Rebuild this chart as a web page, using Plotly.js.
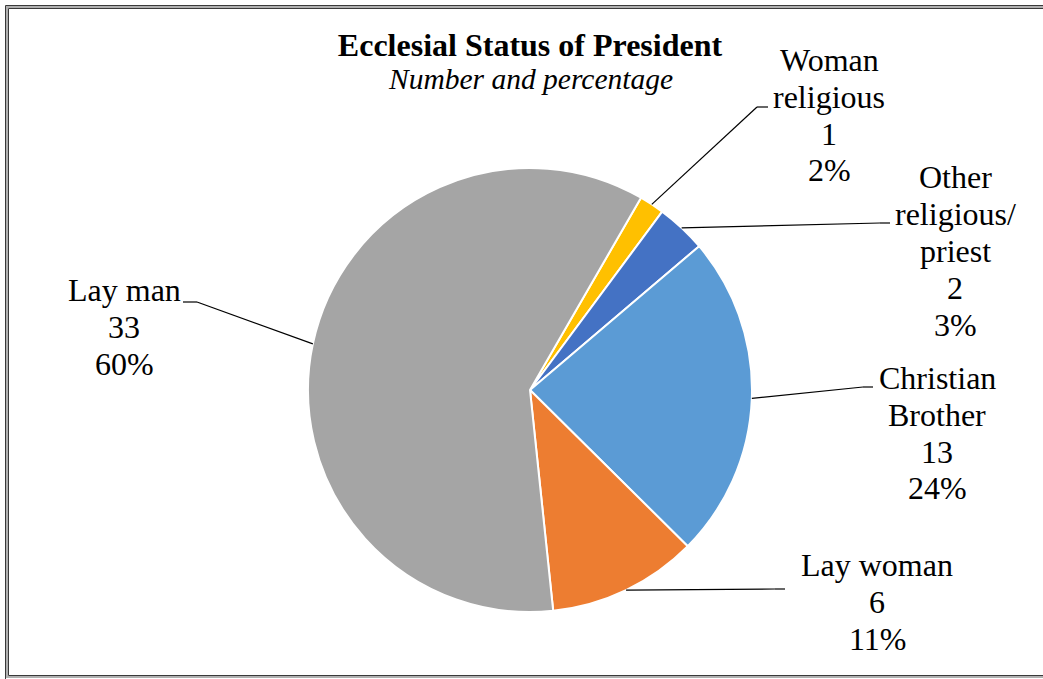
<!DOCTYPE html>
<html>
<head>
<meta charset="utf-8">
<script src="https://cdn.plot.ly/plotly-3.0.1.min.js"></script>
<style>html,body{margin:0;padding:0;background:#fff;}#chart{width:1043px;height:679px;}</style>
</head>
<body>
<div id="chart"></div>
<script>
// ---- Data ----
const categories = ['Woman religious', 'Other religious/priest', 'Christian Brother', 'Lay woman', 'Lay man'];
const counts = [1, 2, 13, 6, 33];
const percentLabels = ['2%', '3%', '24%', '11%', '60%'];
const labelNameLines = [['Woman', 'religious'], ['Other', 'religious/', 'priest'], ['Christian', 'Brother'], ['Lay woman'], ['Lay man']];
const sliceColors = ['#FFC000', '#4472C4', '#5B9BD5', '#ED7D31', '#A5A5A5'];

// ---- Layout geometry (pixels) ----
const W = 1043, H = 679;
const CX = 530, CY = 390, R = 222;
const ROTATION = 30;
const FONT = 'Liberation Serif, Times New Roman, serif';
const LABEL_SIZE = 32, LINE_STEP = 36.8;
const labelPos = [[829, 60], [955, 177.5], [937, 378], [877, 565], [124, 290]];
const elbowPos = [[757, 107], [880, 223], [863, 387], [775, 589], [197, 302]];
const endPos = [[768, 107], [890, 223], [873, 387], [785, 589], [183, 302]];

const px = x => x / W;
const py = y => 1 - y / H;

const total = counts.reduce((a, b) => a + b, 0);
const annotations = [];
const shapes = [];

let cum = 0;
counts.forEach((v, i) => {
  const mid = (ROTATION + 360 * (cum + v / 2) / total) * Math.PI / 180;
  cum += v;
  const ex = CX + R * Math.sin(mid), ey = CY - R * Math.cos(mid);
  shapes.push({type: 'line', xref: 'paper', yref: 'paper', x0: px(ex), y0: py(ey), x1: px(elbowPos[i][0]), y1: py(elbowPos[i][1]), line: {color: '#000', width: 1.2}});
  shapes.push({type: 'line', xref: 'paper', yref: 'paper', x0: px(elbowPos[i][0]), y0: py(elbowPos[i][1]), x1: px(endPos[i][0]), y1: py(endPos[i][1]), line: {color: '#000', width: 1.2}});
  const lines = labelNameLines[i].concat([String(v), percentLabels[i]]);
  lines.forEach((t, k) => {
    annotations.push({xref: 'paper', yref: 'paper', x: px(labelPos[i][0]), y: py(labelPos[i][1] + k * LINE_STEP),
      xanchor: 'center', yanchor: 'middle', showarrow: false, text: t,
      font: {family: FONT, size: LABEL_SIZE, color: '#000'}});
  });
});

// subtitle
annotations.push({xref: 'paper', yref: 'paper', x: px(530), y: py(78.5), xanchor: 'center', yanchor: 'middle', showarrow: false,
  text: '<i>Number and percentage</i>', font: {family: FONT, size: 29.5, color: '#000'}});

// chart frame
shapes.push({type: 'rect', xref: 'paper', yref: 'paper', x0: px(5.5), y0: py(5.5), x1: px(1080), y1: py(680), line: {color: '#3a3a3a', width: 1}, layer: 'above'});
shapes.push({type: 'rect', xref: 'paper', yref: 'paper', x0: px(7), y0: py(7), x1: px(1080), y1: py(677), line: {color: '#b0b0b0', width: 2}, layer: 'above'});
shapes.push({type: 'rect', xref: 'paper', yref: 'paper', x0: px(8.5), y0: py(8.5), x1: px(1080), y1: py(675.5), line: {color: '#3a3a3a', width: 1}, layer: 'above'});

const trace = {
  type: 'pie',
  labels: categories,
  values: counts,
  sort: false,
  direction: 'clockwise',
  rotation: ROTATION,
  textinfo: 'none',
  textposition: 'none',
  hoverinfo: 'label+value+percent',
  marker: {colors: sliceColors, line: {color: '#ffffff', width: 2}},
  domain: {x: [px(CX - R), px(CX + R)], y: [py(CY + R), py(CY - R)]},
  showlegend: false
};

const layout = {
  width: W, height: H,
  margin: {l: 0, r: 0, t: 0, b: 0},
  paper_bgcolor: '#ffffff',
  showlegend: false,
  title: {text: '<b>Ecclesial Status of President</b>', font: {family: FONT, size: 32, color: '#000'},
    x: px(530), xanchor: 'center', xref: 'paper', y: py(45), yanchor: 'middle', yref: 'container'},
  annotations: annotations,
  shapes: shapes
};

Plotly.newPlot('chart', [trace], layout, {displayModeBar: false, staticPlot: true});
</script>
</body>
</html>
